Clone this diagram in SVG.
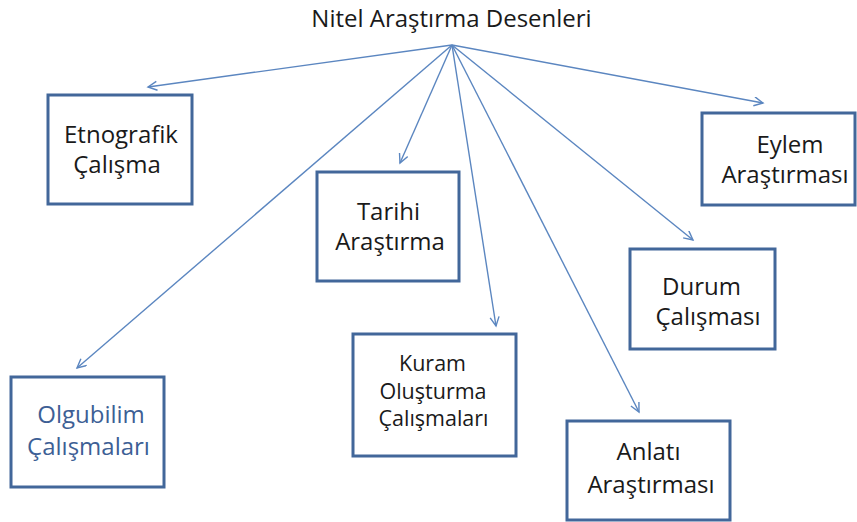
<svg xmlns="http://www.w3.org/2000/svg" width="857" height="522" viewBox="0 0 857 522">
<style>
.box{fill:#ffffff;stroke:#42679a;stroke-width:3}
.t{font-family:"Open Sans","Liberation Sans",sans-serif;font-size:24px;fill:#1a1a1a;text-anchor:middle}
.k{font-size:21.5px}
.blue{fill:#3d5f95}
.c{fill:none;stroke:#5b86c0;stroke-width:1.4}
</style>
<defs>
<marker id="ah" markerWidth="12" markerHeight="12" refX="10" refY="5" orient="auto" markerUnits="userSpaceOnUse">
<path d="M1,0.5 L10,5 L1,9.5" fill="none" stroke="#5b86c0" stroke-width="1.4"/>
</marker>
</defs>
<rect width="857" height="522" fill="#ffffff"/>
<g id="title"><text class="t" x="451.5" y="27">Nitel Araştırma Desenleri</text></g>
<g id="connectors">
<line class="c" x1="452" y1="45" x2="148" y2="87" marker-end="url(#ah)"/>
<line class="c" x1="452" y1="45" x2="400" y2="163" marker-end="url(#ah)"/>
<line class="c" x1="452" y1="45" x2="77" y2="368" marker-end="url(#ah)"/>
<line class="c" x1="452" y1="45" x2="496" y2="326" marker-end="url(#ah)"/>
<line class="c" x1="452" y1="45" x2="639" y2="412" marker-end="url(#ah)"/>
<line class="c" x1="452" y1="45" x2="693" y2="240" marker-end="url(#ah)"/>
<line class="c" x1="452" y1="45" x2="763" y2="103" marker-end="url(#ah)"/>
</g>
<g id="etnografik">
<rect class="box" x="48" y="95" width="144" height="109"/>
<text class="t" x="121" y="143">Etnografik</text>
<text class="t" x="117" y="173">Çalışma</text>
</g>
<g id="tarihi">
<rect class="box" x="317" y="172" width="142" height="109"/>
<text class="t" x="388.5" y="220">Tarihi</text>
<text class="t" x="390" y="250">Araştırma</text>
</g>
<g id="olgubilim">
<rect class="box" x="11" y="377" width="153" height="110"/>
<text class="t blue" x="91" y="423">Olgubilim</text>
<text class="t blue" x="88.5" y="455">Çalışmaları</text>
</g>
<g id="kuram">
<rect class="box" x="353" y="334" width="163" height="122"/>
<text class="t k" x="432.5" y="371">Kuram</text>
<text class="t k" x="433" y="398.5">Oluşturma</text>
<text class="t k" x="433.5" y="426">Çalışmaları</text>
</g>
<g id="eylem">
<rect class="box" x="702" y="113" width="153" height="92"/>
<text class="t" x="790" y="153">Eylem</text>
<text class="t" x="785" y="183">Araştırması</text>
</g>
<g id="durum">
<rect class="box" x="630" y="249" width="145" height="100"/>
<text class="t" x="701.5" y="295">Durum</text>
<text class="t" x="708" y="325">Çalışması</text>
</g>
<g id="anlati">
<rect class="box" x="567" y="421" width="163" height="99"/>
<text class="t" x="648.5" y="460">Anlatı</text>
<text class="t" x="651" y="493">Araştırması</text>
</g>
</svg>
